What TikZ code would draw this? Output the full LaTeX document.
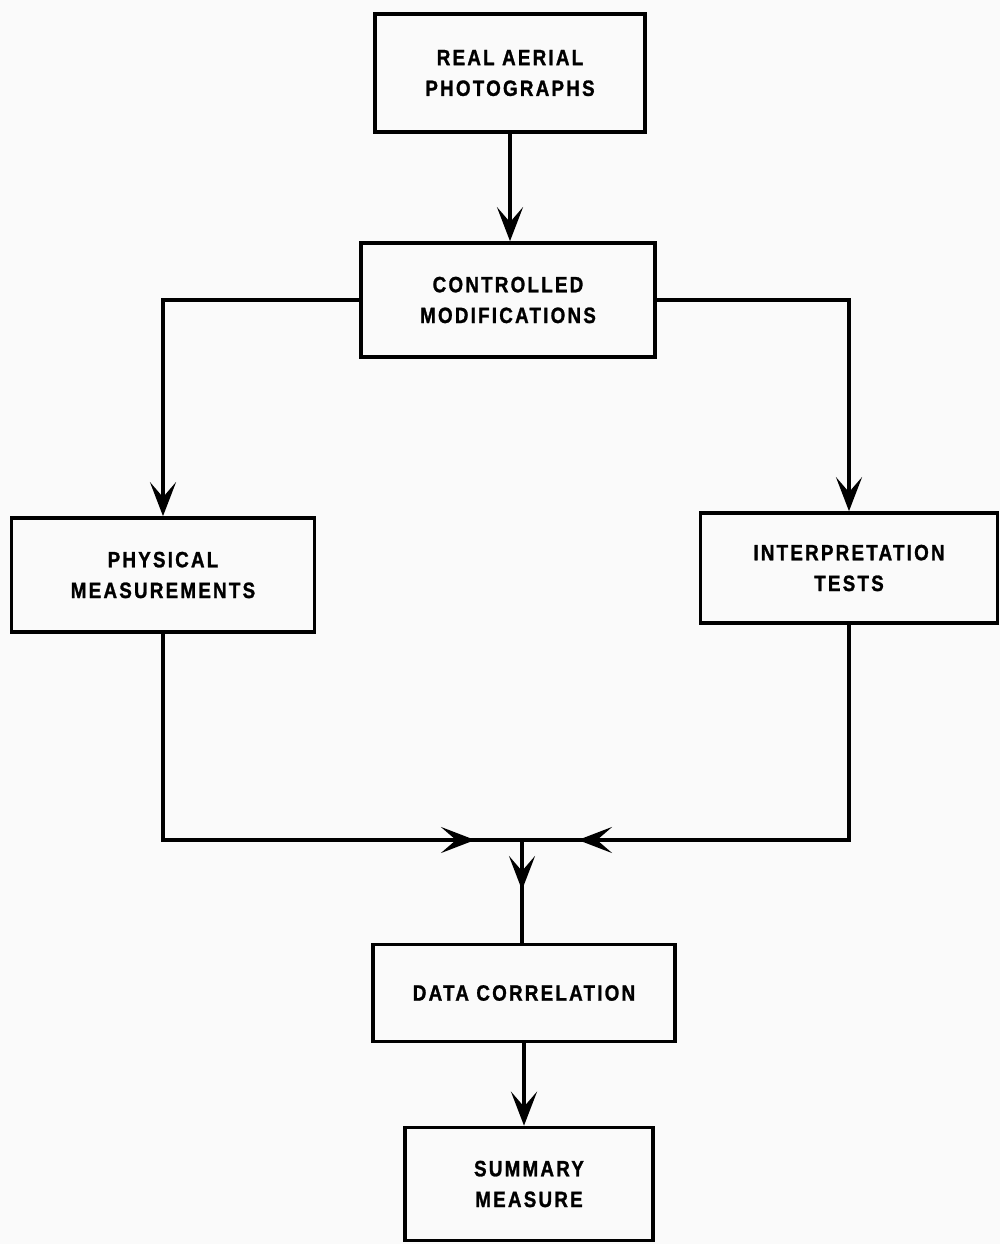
\documentclass[tikz,border=0pt]{standalone}
\usepackage{fontspec}
\usepackage{tikz}
\usetikzlibrary{arrows.meta}
\newfontfamily\boxfont[FakeStretch=0.85,LetterSpace=10,FakeBold=1.2]{Liberation Sans}
\definecolor{paper}{RGB}{250,250,250}

\begin{document}
\begin{tikzpicture}[x=0.2mm, y=-0.2mm, line width=2.1pt, >={Stealth[length=6.8mm,width=5.2mm,inset=3mm]}, every node/.style={draw, rectangle, align=center, font=\boxfont\bfseries\fontsize{12.6}{17.5}\selectfont}]
	\fill[paper] (0,0) rectangle (1000,1244);
	\useasboundingbox (0,0) rectangle (1000,1244);
	\node[minimum width=54mm, minimum height=23.6mm] (photos) at (510,73) {REAL AERIAL\\PHOTOGRAPHS};
	\node[minimum width=58.8mm, minimum height=22.8mm] (modif) at (508,300) {CONTROLLED\\MODIFICATIONS};
	\node[minimum width=60.6mm, minimum height=22.8mm] (phys) at (163,575) {PHYSICAL\\MEASUREMENTS};
	\node[minimum width=59.4mm, minimum height=22mm] (interp) at (849,568) {INTERPRETATION\\TESTS};
	\node[minimum width=60.4mm, minimum height=19.4mm] (corr) at (524,993) {DATA CORRELATION};
	\node[minimum width=49.6mm, minimum height=22.6mm] (summary) at (529,1184) {SUMMARY\\MEASURE};
	\coordinate (join) at (522,840);
	\coordinate (inL) at (475,840);
	\coordinate (inR) at (578,840);
	\coordinate (down) at (522,890);
	\draw[->] (photos.south) -- (photos.south |- modif.north);
	\draw[->] (modif.west) -| (phys.north);
	\draw[->] (modif.east) -| (interp.north);
	% plain lines first, arrowheads on top
	\draw (phys.south) |- (join) -| (interp.south);
	\draw (join) -- (join |- corr.north);
	\draw[->] (phys.south) |- (inL);
	\draw[->] (interp.south) |- (inR);
	\draw[->] (join) -- (down);
	\draw[->] (corr.south) -- (corr.south |- summary.north);
\end{tikzpicture}
\end{document}
